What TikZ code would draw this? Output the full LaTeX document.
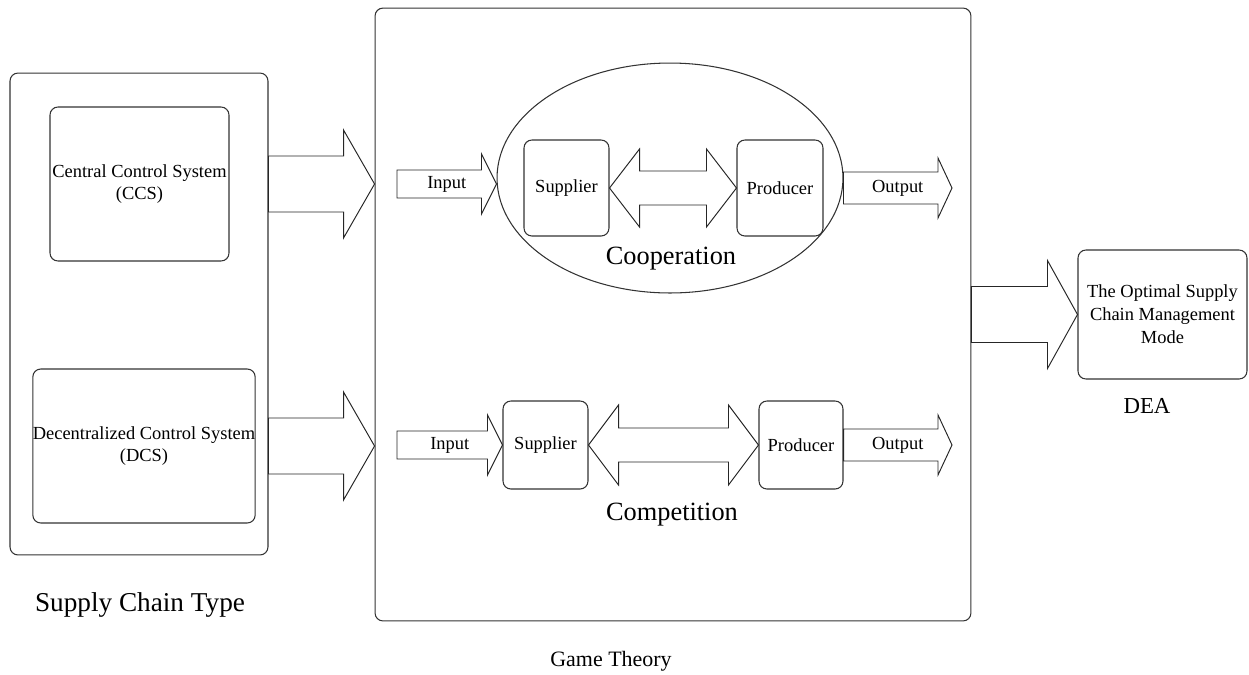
\documentclass[tikz,border=0pt]{standalone}
\usepackage{fontspec}
\setmainfont{Liberation Serif}
\usetikzlibrary{shapes.geometric,calc,positioning}

% one pixel of the layout grid
\def\pxu{0.02cm}

% hollow block arrow: tail, tip, shaft half width, head half width, head length
\newcommand{\blockarrow}[5]{%
  \draw[blockline] let \p1=#1, \p2=#2 in
    (\x1,{\y1+#3*\pxu}) -- ({\x2-#5*\pxu},{\y1+#3*\pxu}) -- ({\x2-#5*\pxu},{\y1+#4*\pxu})
    -- (\x2,\y1) -- ({\x2-#5*\pxu},{\y1-#4*\pxu}) -- ({\x2-#5*\pxu},{\y1-#3*\pxu})
    -- (\x1,{\y1-#3*\pxu}) -- cycle;}

% hollow two-headed block arrow: left tip, right tip, shaft half width, head half width, head length
\newcommand{\doublearrow}[5]{%
  \draw[blockline] let \p1=#1, \p2=#2 in
    (\x1,\y1) -- ({\x1+#5*\pxu},{\y1+#4*\pxu}) -- ({\x1+#5*\pxu},{\y1+#3*\pxu})
    -- ({\x2-#5*\pxu},{\y1+#3*\pxu}) -- ({\x2-#5*\pxu},{\y1+#4*\pxu}) -- (\x2,\y1)
    -- ({\x2-#5*\pxu},{\y1-#4*\pxu}) -- ({\x2-#5*\pxu},{\y1-#3*\pxu})
    -- ({\x1+#5*\pxu},{\y1-#3*\pxu}) -- ({\x1+#5*\pxu},{\y1-#4*\pxu}) -- cycle;}

\tikzset{
  box/.style={draw=black!80, line width=0.6pt, rounded corners=4.5pt, align=center,
    inner sep=0pt, font=\fontsize{10.5}{13}\selectfont},
  blockline/.style={draw=black!85, line width=0.55pt, line join=miter},
  tagtext/.style={font=\fontsize{15}{18}\selectfont},
  arrowtext/.style={inner sep=0pt, font=\fontsize{10.5}{13}\selectfont}
}

\begin{document}
\begin{tikzpicture}[x=0.02cm, y=-0.02cm]
    \useasboundingbox (0,0) rectangle (1249,674);

    % Supply chain types
    \node[box, minimum width=5.16cm, minimum height=9.64cm] (sct) at (139,314) {};
    \node[box, minimum width=3.58cm, minimum height=3.08cm] (ccs) at (139.5,184) {Central Control System\\(CCS)};
    \node[box, minimum width=4.44cm, minimum height=3.08cm] (dcs) at (144,446) {Decentralized Control System\\(DCS)};
    \node[tagtext, font=\fontsize{15.5}{18}\selectfont] (scttxt) at (140,605) {Supply Chain Type};

    % Game theory frame
    \node[box, minimum width=11.92cm, minimum height=12.26cm] (gt) at (673,314.5) {};
    \node[tagtext, font=\fontsize{12.5}{15}\selectfont] (gttxt) at (611,661) {Game Theory};

    % Cooperation
    \node[draw=black!80, line width=0.6pt, ellipse, minimum width=6.92cm, minimum height=4.6cm] (coop) at (670,178) {};
    \node[box, minimum width=1.7cm, minimum height=1.92cm] (sup1) at (566.5,188) {Supplier};
    \node[box, minimum width=1.72cm, minimum height=1.92cm] (prod1) at (780,188) {Producer};
    \node[tagtext] (cooptxt) at (671,259) {Cooperation};

    % Competition
    \node[box, minimum width=1.7cm, minimum height=1.76cm] (sup2) at (545.5,445) {Supplier};
    \node[box, minimum width=1.68cm, minimum height=1.76cm] (prod2) at (801,445) {Producer};
    \node[tagtext] (comptxt) at (672,515) {Competition};

    % DEA result
    \node[box, minimum width=3.38cm, minimum height=2.58cm] (dea) at (1162.5,314.5) {The Optimal Supply\\Chain Management\\Mode};
    \node[tagtext, font=\fontsize{13}{16}\selectfont] (deatxt) at (1147,406) {DEA};

    % free ends of input and output arrows
    \coordinate (in1) at (397,184);
    \coordinate (out1) at (952,188);
    \coordinate (in2) at (397,445);
    \coordinate (out2) at (952,445);

    % Block arrows
    \blockarrow{(sct.east |- ccs.center)}{(gt.west |- ccs.center)}{28}{54}{31}
    \blockarrow{(sct.east |- dcs.center)}{(gt.west |- dcs.center)}{28}{54}{31}
    \blockarrow{(gt.east |- dea.center)}{(dea.west)}{28}{54}{30}
    \blockarrow{(in1)}{(in1 -| coop.west)}{14}{30}{15}
    \blockarrow{(coop.east |- out1)}{(out1)}{16}{30}{14}
    \blockarrow{(in2)}{(sup2.west)}{14}{30}{15}
    \blockarrow{(prod2.east)}{(out2)}{16}{30}{14}
    \doublearrow{(sup1.east)}{(prod1.west)}{17}{39}{30}
    \doublearrow{(sup2.east)}{(prod2.west)}{17}{40}{30}

    % Arrow labels
    \node[arrowtext] (intxt1) at ($(in1)!0.5!(in1 -| coop.west)$) {Input};
    \node[arrowtext] (outtxt1) at ($(coop.east |- out1)!0.5!(out1)$) {Output};
    \node[arrowtext] (intxt2) at ($(in2)!0.5!(sup2.west)$) {Input};
    \node[arrowtext] (outtxt2) at ($(prod2.east)!0.5!(out2)$) {Output};
\end{tikzpicture}
\end{document}
